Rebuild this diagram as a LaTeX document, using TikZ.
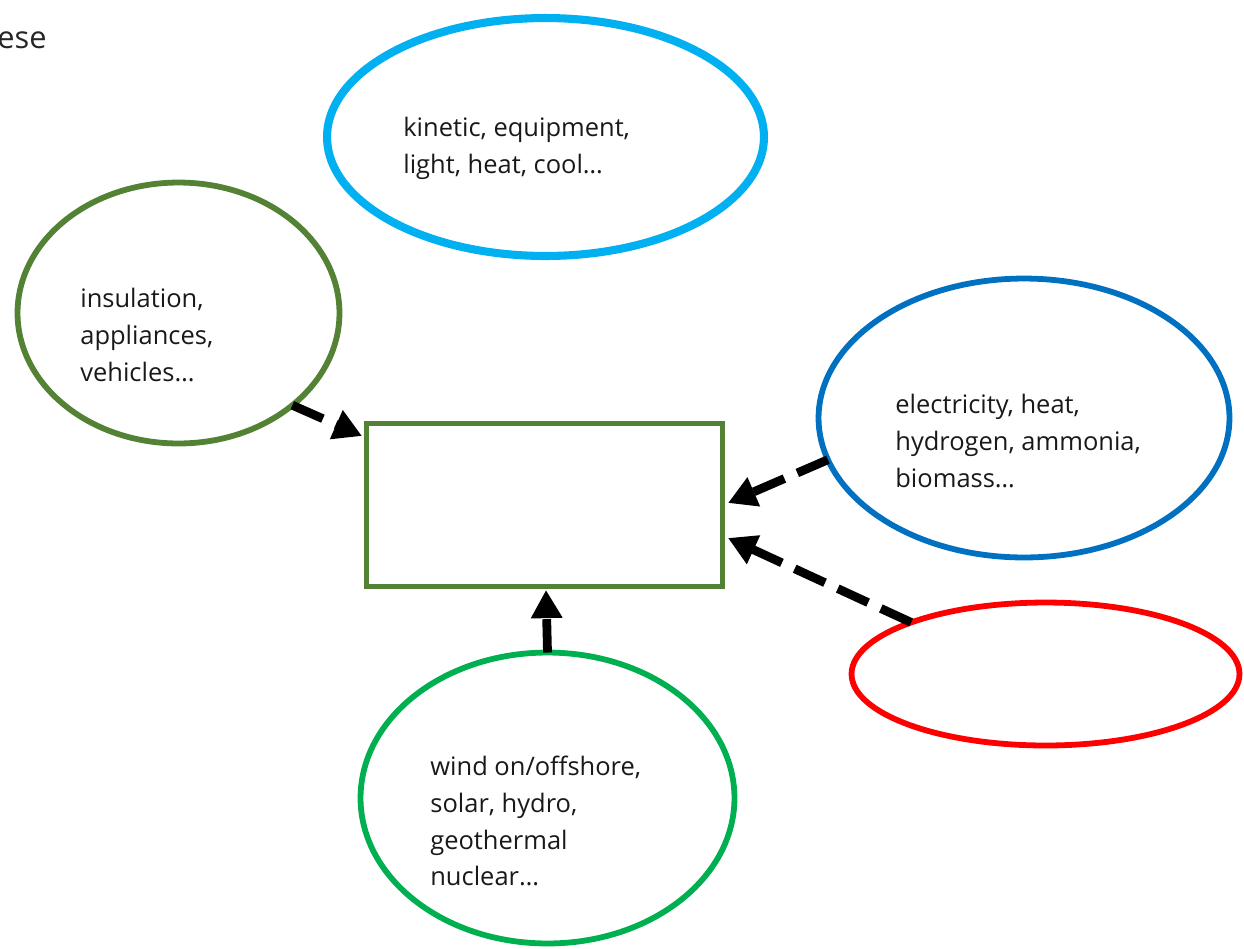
\documentclass[tikz,border=0pt]{standalone}
\usepackage{fontspec}
\setmainfont{Open Sans}
\usetikzlibrary{shapes.geometric,arrows.meta}
\begin{document}
\begin{tikzpicture}[x=0.02cm,y=-0.02cm,
  oval/.style={draw,ellipse,inner sep=0pt,outer sep=0pt,line width=3.3pt},
  lbl/.style={align=left,anchor=west,inner sep=0pt,font=\fontsize{14.5}{21}\selectfont,text=black!90},
  flow/.style={line width=5pt,dash pattern=on 19pt off 8pt,-{Triangle[length=16pt,width=17pt]}}]
\useasboundingbox (0,0) rectangle (1244,948);
\definecolor{cyanc}{HTML}{00B0F0}
\definecolor{olive}{HTML}{548235}
\definecolor{bluec}{HTML}{0070C0}
\definecolor{greenc}{HTML}{00B050}
\definecolor{redc}{HTML}{FF0000}
\node[anchor=west,inner sep=0pt,font=\fontsize{17.5}{22}\selectfont,text=black!85] (ese) at (-3,40) {ese};
\node[oval,draw=cyanc,line width=4.6pt,minimum width=8.74cm,minimum height=4.76cm] (T) at (545.5,137) {};
\node[oval,draw=olive,minimum width=6.44cm,minimum height=5.22cm] (L) at (178.5,313) {};
\node[oval,draw=bluec,minimum width=8.22cm,minimum height=5.58cm] (R) at (1024,418) {};
\node[oval,draw=redc,minimum width=7.76cm,minimum height=2.86cm] (E) at (1045.5,674) {};
\node[oval,draw=greenc,minimum width=7.48cm,minimum height=5.82cm] (B) at (547.5,798) {};
\node[draw=olive,line width=3.3pt,minimum width=7.12cm,minimum height=3.26cm,inner sep=0pt,outer sep=0pt] (box) at (544.5,505) {};
\node[lbl] (tT) at (403,148) {kinetic, equipment,\\light, heat, cool…};
\node[lbl] (tL) at (80,335) {insulation,\\appliances,\\vehicles…};
\node[lbl] (tR) at (895,441) {electricity, heat,\\hydrogen, ammonia,\\biomass…};
\node[lbl] (tB) at (430,821) {wind on/offshore,\\solar, hydro,\\geothermal\\nuclear…};
\coordinate (t1) at (362,436);
\coordinate (t2) at (728,503);
\coordinate (t3) at (728,538);
\coordinate (t4) at (546,590);
\draw[flow] (L.-39) -- (t1);
\draw[flow] (R.192.5) -- (t2);
\draw[flow] (E.159.4) -- (t3);
\draw[flow] (B.north) -- (t4);
\end{tikzpicture}
\end{document}
